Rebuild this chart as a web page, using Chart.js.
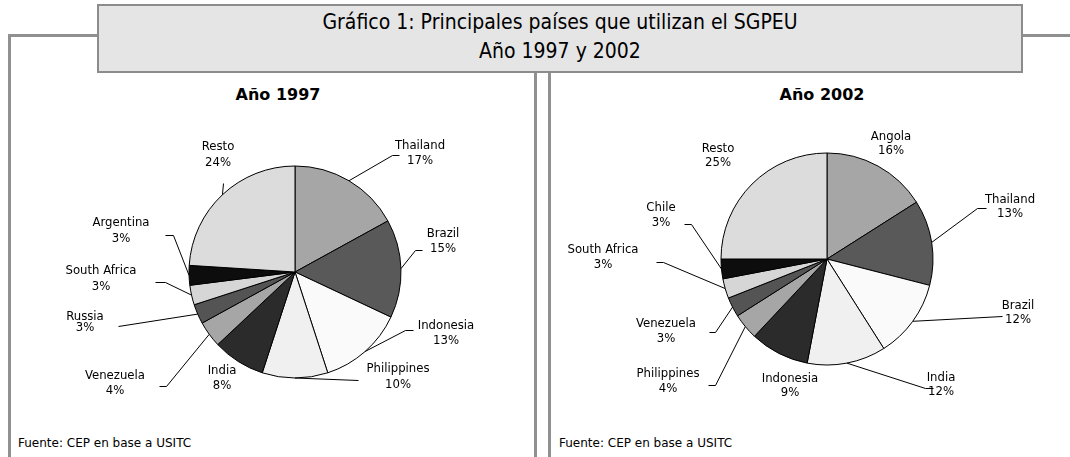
<!DOCTYPE html>
<html>
<head>
<meta charset="utf-8">
<script src="https://cdn.jsdelivr.net/npm/chart.js@4.4.1/dist/chart.umd.min.js"></script>
<style>
  html, body { margin: 0; padding: 0; }
  body { width: 1070px; height: 457px; position: relative; background: #fff; overflow: hidden; font-family: "DejaVu Sans", sans-serif; }
  .ln { position: absolute; background: #909090; }
  #tbox { position: absolute; left: 97px; top: 4px; width: 922px; height: 65px; background: #e5e5e5; border: 2px solid #8c8c8c; box-sizing: content-box; }
  #tbox div { position: absolute; left: 0; width: 100%; text-align: center; font-family: "Liberation Sans Narrow", "DejaVu Sans Condensed", sans-serif; font-size: 21px; color: #000; line-height: 22px; }
  .ptitle { position: absolute; top: 85px; width: 200px; text-align: center; font-weight: bold; font-size: 16px; line-height: 20px; color: #000; }
  .src { position: absolute; top: 435px; font-size: 12px; line-height: 16px; color: #000; }
  canvas { position: absolute; top: 0; }
</style>
</head>
<body>
<div class="ln" style="left:8px; top:34px; width:90px; height:3px;"></div>
<div class="ln" style="left:8px; top:34px; width:3px; height:423px;"></div>
<div class="ln" style="left:1021px; top:34px; width:49px; height:3px;"></div>
<div class="ln" style="left:534px; top:70px; width:3px; height:387px;"></div>
<div class="ln" style="left:548px; top:70px; width:3px; height:387px;"></div>
<div id="tbox">
  <div style="top:5px;">Gráfico 1: Principales países que utilizan el SGPEU</div>
  <div style="top:34px;">Año 1997 y 2002</div>
</div>
<div class="ptitle" style="left:178px;">Año 1997</div>
<div class="ptitle" style="left:722px;">Año 2002</div>
<div class="src" style="left:18px;">Fuente: CEP en base a USITC</div>
<div class="src" style="left:559px;">Fuente: CEP en base a USITC</div>

<canvas id="c1997" width="535" height="457" style="left:0px;"></canvas>
<canvas id="c2002" width="535" height="457" style="left:535px;"></canvas>

<script>
// ---- data ----
const countries1997 = ["Thailand", "Brazil", "Indonesia", "Philippines", "India", "Venezuela", "Russia", "South Africa", "Argentina", "Resto"];
const shares1997 = [17, 15, 13, 10, 8, 4, 3, 3, 3, 24];

const countries2002 = ["Angola", "Thailand", "Brazil", "India", "Indonesia", "Philippines", "Venezuela", "South Africa", "Chile", "Resto"];
const shares2002 = [16, 13, 12, 12, 9, 4, 3, 3, 3, 25];

const sliceColors = ["#a6a6a6", "#595959", "#fafafa", "#f0f0f0", "#2b2b2b", "#a6a6a6", "#545454", "#d6d6d6", "#0d0d0d", "#dcdcdc"];

// ---- label layout (offsets from pie centre, in px) ----
const layout1997 = [
  { l: [125, -126], g: 15, lead: [[97, -117], [104, -117]] },
  { l: [148, -38], g: 15, lead: [[120, -22], [127, -22]] },
  { l: [151, 54], g: 15, lead: [[110, 58], [118, 58]] },
  { l: [103, 97], g: 16, lead: [[63, 108]] },
  { l: [-73, 99], g: 15, lead: null },
  { l: [-180, 104], g: 15, lead: [[-129, 114], [-136, 114]] },
  { l: [-210, 45], g: 11, lead: [[-177, 54]] },
  { l: [-194, -1], g: 16, lead: [[-130, 10], [-140, 10]] },
  { l: [-174, -49], g: 16, lead: [[-122, -37], [-130, -37]] },
  { l: [-77, -125], g: 16, lead: [[-72, -89]] }
];
const layout2002 = [
  { l: [64, -122], g: 14, lead: null },
  { l: [183, -59], g: 14, lead: [[150, -51], [159, -51]] },
  { l: [191, 47], g: 14, lead: [[175, 57]] },
  { l: [114, 119], g: 14, lead: [[98, 129], [106, 129]] },
  { l: [-37, 120], g: 14, lead: null },
  { l: [-159, 115], g: 15, lead: [[-112, 126], [-119, 126]] },
  { l: [-161, 65], g: 15, lead: [[-112, 73], [-118, 73]] },
  { l: [-224, -9], g: 15, lead: [[-164, 3], [-171, 3]] },
  { l: [-166, -51], g: 15, lead: [[-136, -35], [-143, -35]] },
  { l: [-109, -110], g: 14, lead: null }
];

const pieLabelPlugin = {
  id: 'pieLabels',
  afterDatasetsDraw(chart, args, opts) {
    const ctx = chart.ctx;
    const meta = chart.getDatasetMeta(0);
    const data = chart.data.datasets[0].data;
    const total = data.reduce((a, b) => a + b, 0);
    const lay = opts.layout;
    ctx.save();
    ctx.font = '13px "DejaVu Sans Condensed", "Liberation Sans Narrow", sans-serif';
    ctx.fillStyle = '#000';
    ctx.textAlign = 'center';
    ctx.textBaseline = 'middle';
    ctx.strokeStyle = '#000';
    ctx.lineWidth = 1;
    meta.data.forEach((arc, i) => {
      const p = arc.getProps(['x', 'y', 'startAngle', 'endAngle', 'outerRadius'], true);
      const cx = p.x, cy = p.y;
      const L = lay[i];
      if (L.lead) {
        const mid = (p.startAngle + p.endAngle) / 2;
        const ex = cx + Math.cos(mid) * p.outerRadius;
        const ey = cy + Math.sin(mid) * p.outerRadius;
        ctx.beginPath();
        ctx.moveTo(ex, ey);
        L.lead.forEach(pt => ctx.lineTo(cx + pt[0] + 0.5, cy + pt[1] + 0.5));
        ctx.stroke();
      }
      const pct = Math.round(data[i] / total * 100) + '%';
      ctx.fillText(chart.data.labels[i], cx + L.l[0], cy + L.l[1]);
      ctx.fillText(pct, cx + L.l[0], cy + L.l[1] + L.g);
    });
    ctx.restore();
  }
};

function makePie(id, labels, values, layout, padding) {
  return new Chart(document.getElementById(id), {
    type: 'pie',
    data: {
      labels: labels,
      datasets: [{
        data: values,
        backgroundColor: sliceColors,
        borderColor: '#000',
        borderWidth: 1,
        radius: 106
      }]
    },
    options: {
      responsive: false,
      animation: false,
      devicePixelRatio: 1,
      layout: { padding: padding },
      events: [],
      plugins: {
        legend: { display: false },
        tooltip: { enabled: false },
        title: { display: false },
        pieLabels: { layout: layout }
      }
    },
    plugins: [pieLabelPlugin]
  });
}

makePie('c1997', countries1997, shares1997, layout1997, { left: 180, right: 125, top: 157, bottom: 70 });
makePie('c2002', countries2002, shares2002, layout2002, { left: 177, right: 128, top: 144, bottom: 83 });
</script>
</body>
</html>
